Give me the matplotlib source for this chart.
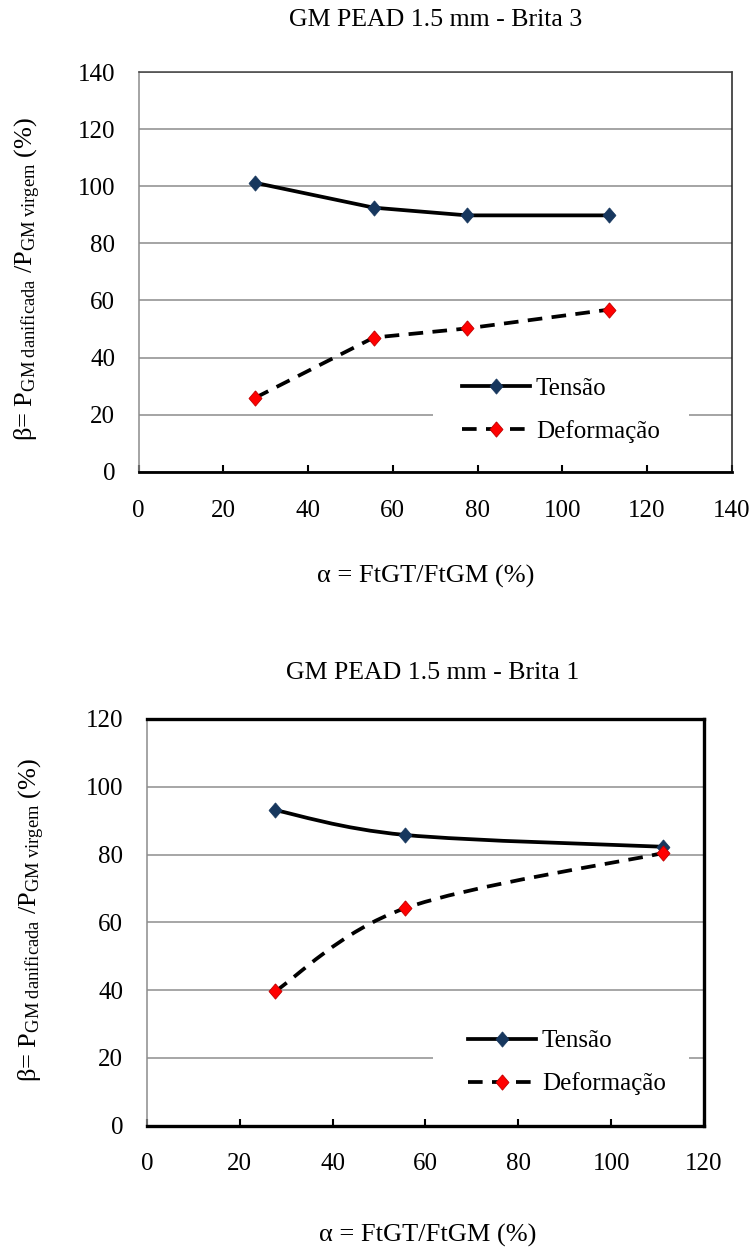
import matplotlib
matplotlib.use("Agg")
import matplotlib.pyplot as plt
import numpy as np
from matplotlib.path import Path
from matplotlib.patches import PathPatch, Rectangle
from matplotlib.lines import Line2D

# --- data -------------------------------------------------------------
alpha_brita3 = [27.5, 55.5, 77.5, 111.1]
tensao_brita3 = [101.2, 92.5, 89.8, 89.8]
deform_brita3 = [25.9, 47.0, 50.2, 56.8]

alpha_brita1 = [27.6, 55.5, 111.1]
tensao_brita1 = [93.1, 85.8, 82.3]
deform_brita1 = [39.6, 64.1, 80.4]

series_labels = ["Tensão", "Deformação"]
titles = ["GM PEAD 1.5 mm - Brita 3", "GM PEAD 1.5 mm - Brita 1"]
xlabel = "α = FtGT/FtGM (%)"
ylabel = r"β= P$_{\mathrm{GM\ danificada}}$ /P$_{\mathrm{GM\ virgem}}$ (%)"

# --- style ------------------------------------------------------------
plt.rcParams["font.family"] = ["Liberation Serif", "DejaVu Serif"]
plt.rcParams["mathtext.fontset"] = "custom"
plt.rcParams["mathtext.rm"] = "Liberation Serif"
plt.rcParams["mathtext.it"] = "Liberation Serif:italic"
plt.rcParams["mathtext.bf"] = "Liberation Serif:bold"

FS = 18
NAVY = "#17375E"
RED = "#FF0000"
DIAMOND = [(0, 1), (0.85, 0), (0, -1), (-0.85, 0), (0, 1)]
LW = 2.7
DASH = (0, (3.9, 2.5))


def smooth_path(x, y):
    """Cardinal-spline (Bezier) path through the points."""
    pts = np.column_stack([x, y]).astype(float)
    n = len(pts)
    verts = [pts[0]]
    codes = [Path.MOVETO]
    for i in range(n - 1):
        p0 = pts[i - 1] if i > 0 else pts[i]
        p1 = pts[i]
        p2 = pts[i + 1]
        p3 = pts[i + 2] if i + 2 < n else pts[i + 1]
        c1 = p1 + (p2 - p0) / 6.0
        c2 = p2 - (p3 - p1) / 6.0
        verts += [c1, c2, p2]
        codes += [Path.CURVE4] * 3
    return Path(verts, codes)


def draw_panel(ax, xs, ten, dfm, xmax, ymax, smooth, grid_color, grid_lw,
               leg_center, leg_rect):
    ax.set_xlim(0, xmax)
    ax.set_ylim(0, ymax)
    ax.set_xticks(np.arange(0, xmax + 1, 20))
    ax.set_yticks(np.arange(0, ymax + 1, 20))
    ax.set_axisbelow(True)
    ax.yaxis.grid(True, color=grid_color, lw=grid_lw)

    if smooth:
        ax.add_patch(PathPatch(smooth_path(xs, ten), fill=False, ec="black",
                               lw=LW, zorder=3, capstyle="round",
                               joinstyle="round"))
        ax.add_patch(PathPatch(smooth_path(xs, dfm), fill=False, ec="black",
                               lw=LW, ls=DASH, zorder=3, capstyle="butt"))
    else:
        ax.plot(xs, ten, color="black", lw=LW, zorder=3,
                solid_joinstyle="round")
        ax.plot(xs, dfm, color="black", lw=LW, ls=DASH, zorder=3,
                dash_capstyle="butt")
    ax.plot(xs, ten, ls="none", marker=DIAMOND, ms=11, mfc=NAVY, mec=NAVY,
            mew=0.5, zorder=4)
    ax.plot(xs, dfm, ls="none", marker=DIAMOND, ms=11, mfc=RED,
            mec="#C00000", mew=0.6, zorder=4)

    # legend background
    ax.add_patch(Rectangle((leg_rect[0], leg_rect[1]), leg_rect[2],
                           leg_rect[3], transform=ax.transAxes,
                           facecolor="white", edgecolor="none", zorder=1))
    handles = [
        Line2D([], [], color="black", lw=LW, marker=DIAMOND, ms=11,
               mfc=NAVY, mec=NAVY, mew=0.5),
        Line2D([], [], color="black", lw=LW, ls=DASH, marker=DIAMOND, ms=11,
               mfc=RED, mec="#C00000", mew=0.6, dash_capstyle="butt"),
    ]
    ax.legend(handles, series_labels, loc="center", bbox_to_anchor=leg_center,
              frameon=False, fontsize=FS, handlelength=2.7,
              handletextpad=0.25, labelspacing=0.8, borderpad=0)

    ax.tick_params(axis="y", length=0, pad=17, labelsize=FS)
    ax.tick_params(axis="x", direction="in", length=5, width=1.5, pad=20,
                   labelsize=FS, color="black")
    return ax


fig = plt.figure(figsize=(7.51, 12.53), dpi=100)

# upper panel
ax1 = fig.add_axes([0.1847, 0.6235, 0.7895, 0.3190])
draw_panel(ax1, alpha_brita3, tensao_brita3, deform_brita3, 140, 140, False,
           "#8C8C8C", 1.1, (0.712, 0.154), (0.496, 0.029, 0.432, 0.25))
ax1.spines["left"].set_color("#8C8C8C")
ax1.spines["left"].set_linewidth(1.1)
ax1.spines["top"].set_color("#404040")
ax1.spines["top"].set_linewidth(1.1)
ax1.spines["right"].set_color("#202020")
ax1.spines["right"].set_linewidth(1.1)
ax1.spines["bottom"].set_color("black")
ax1.spines["bottom"].set_linewidth(2.0)

# lower panel
ax2 = fig.add_axes([0.1955, 0.1016, 0.7419, 0.3246])
draw_panel(ax2, alpha_brita1, tensao_brita1, deform_brita1, 120, 120, True,
           "#A6A6A6", 1.4, (0.754, 0.155), (0.514, 0.038, 0.459, 0.234))
ax2.spines["left"].set_color("#8C8C8C")
ax2.spines["left"].set_linewidth(1.1)
for s in ("top", "right", "bottom"):
    ax2.spines[s].set_color("black")
    ax2.spines[s].set_linewidth(2.4)

# titles and axis labels
fig.text(0.5806, 0.984, titles[0], ha="center", va="center", fontsize=18.6)
fig.text(0.5766, 0.4629, titles[1], ha="center", va="center", fontsize=18.6)
fig.text(0.567, 0.5397, xlabel, ha="center", va="center", fontsize=FS + 1)
fig.text(0.569, 0.0144, xlabel, ha="center", va="center", fontsize=FS + 1)
fig.text(0.0366, 0.7778, ylabel, ha="center", va="center", rotation=90,
         fontsize=FS + 1)
fig.text(0.0420, 0.2658, ylabel, ha="center", va="center", rotation=90,
         fontsize=FS + 1)

fig.savefig("out.png", dpi=100)
